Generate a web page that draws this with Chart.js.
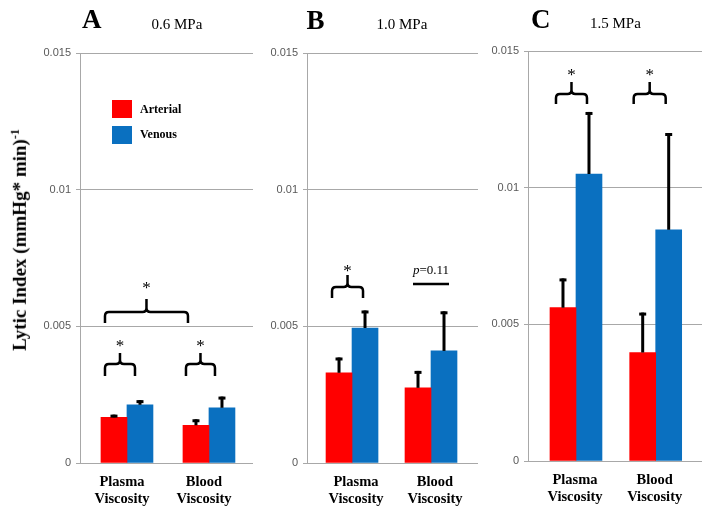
<!DOCTYPE html>
<html><head><meta charset="utf-8">
<script src="https://cdn.jsdelivr.net/npm/chart.js@4"></script>
<style>
html,body{margin:0;padding:0;background:#fff;}
#wrap{position:relative;width:714px;height:517px;overflow:hidden;background:#fff;}
canvas{position:absolute;top:0;}
.t{position:absolute;font-family:"Liberation Serif","Times New Roman",serif;line-height:1;white-space:nowrap;color:#000;}
.b{font-weight:bold;}
.sq{position:absolute;width:20px;height:18px;}
</style></head><body>
<div id="wrap">
<canvas id="cA" width="238" height="517" style="left:20px"></canvas>
<canvas id="cB" width="222" height="517" style="left:258px"></canvas>
<canvas id="cC" width="234" height="517" style="left:480px"></canvas>

<div class="t b" style="left:82px;top:5.7px;font-size:27px">A</div>
<div class="t" style="left:151.5px;top:16.7px;font-size:15px">0.6 MPa</div>
<div class="t b" style="left:306.5px;top:6.5px;font-size:27px">B</div>
<div class="t" style="left:376.5px;top:16.7px;font-size:15px">1.0 MPa</div>
<div class="t b" style="left:531px;top:5.7px;font-size:27px">C</div>
<div class="t" style="left:590px;top:15.7px;font-size:15px">1.5 MPa</div>

<div class="sq" style="left:112px;top:100px;background:#ff0000"></div>
<div class="sq" style="left:112px;top:126px;background:#0a70c0"></div>
<div class="t b" id="lg0" style="left:140px;top:103px;font-size:12px"></div>
<div class="t b" id="lg1" style="left:140px;top:128px;font-size:12px"></div>

<div class="t b" style="left:19px;top:240px;font-size:19px;transform:translate(-50%,-50%) rotate(-90deg);">Lytic Index (mmHg* min)<sup style="font-size:12px">-1</sup></div>
</div>
<script>
// ---- data ----
const categories = ['Plasma Viscosity', 'Blood Viscosity'];
const categoryLines = [['Plasma', 'Viscosity'], ['Blood', 'Viscosity']];
const seriesNames = ['Arterial', 'Venous'];
const yTicks = [0, 0.005, 0.01, 0.015];
const yTickLabels = ['0', '0.005', '0.01', '0.015'];

// Panel A: 0.6 MPa
const arterialA = [0.00167, 0.00138];
const arterialErrA = [0.00010, 0.00022];
const venousA = [0.00213, 0.00202];
const venousErrA = [0.00017, 0.00041];
// Panel B: 1.0 MPa
const arterialB = [0.00330, 0.00275];
const arterialErrB = [0.00056, 0.00062];
const venousB = [0.00494, 0.00410];
const venousErrB = [0.00064, 0.00145];
// Panel C: 1.5 MPa
const arterialC = [0.00561, 0.00397];
const arterialErrC = [0.00107, 0.00146];
const venousC = [0.01050, 0.00846];
const venousErrC = [0.00227, 0.00354];

const pValueLabel = 'p=0.11';

document.getElementById('lg0').textContent = seriesNames[0];
document.getElementById('lg1').textContent = seriesNames[1];

Chart.defaults.font.family = '"Liberation Sans", Arial, sans-serif';

function drawBrace(ctx, x1, x2, yb, leg, stem, r) {
  const yh = yb - leg, xm = (x1 + x2) / 2, yt = yh - stem;
  ctx.beginPath();
  ctx.moveTo(x1, yb);
  ctx.lineTo(x1, yh + r);
  ctx.quadraticCurveTo(x1, yh, x1 + r, yh);
  ctx.lineTo(xm - r, yh);
  ctx.quadraticCurveTo(xm, yh, xm, yh - r);
  ctx.lineTo(xm, yt);
  ctx.moveTo(xm, yh - r);
  ctx.quadraticCurveTo(xm, yh, xm + r, yh);
  ctx.lineTo(x2 - r, yh);
  ctx.quadraticCurveTo(x2, yh, x2, yh + r);
  ctx.lineTo(x2, yb);
  ctx.stroke();
  return yt;
}

const annotPlugin = {
  id: 'annot',
  afterDatasetsDraw(chart, args, opts) {
    const ctx = chart.ctx, xs = chart.scales.x, ys = chart.scales.y;
    const errs = opts.errors;
    ctx.save();
    ctx.strokeStyle = '#000';
    ctx.fillStyle = '#000';
    chart.data.datasets.forEach((ds, di) => {
      const meta = chart.getDatasetMeta(di);
      meta.data.forEach((bar, i) => {
        const v = ds.data[i].y;
        const top = ys.getPixelForValue(v + errs[di][i]);
        ctx.lineWidth = 3;
        ctx.lineCap = 'butt';
        ctx.beginPath();
        ctx.moveTo(bar.x, bar.y);
        ctx.lineTo(bar.x, top);
        ctx.stroke();
        ctx.lineWidth = 3;
        ctx.beginPath();
        ctx.moveTo(bar.x - 3.5, top + 1.5);
        ctx.lineTo(bar.x + 3.5, top + 1.5);
        ctx.stroke();
      });
    });
    (opts.braces || []).forEach(b => {
      const x1 = xs.getPixelForValue(b.c1) + b.dx1;
      const x2 = xs.getPixelForValue(b.c2) + b.dx2;
      const yb = ys.getPixelForValue(b.y);
      ctx.lineWidth = 2.5;
      ctx.lineCap = 'butt';
      const yt = drawBrace(ctx, x1, x2, yb, b.leg, b.stem, 4);
      ctx.font = '17px "Liberation Serif", serif';
      ctx.textAlign = 'center';
      ctx.textBaseline = 'alphabetic';
      ctx.fillText('*', (x1 + x2) / 2, yt - b.star + 8);
    });
    (opts.plines || []).forEach(p => {
      const xc = xs.getPixelForValue(p.c);
      const y = ys.getPixelForValue(p.y);
      ctx.lineWidth = 2.5;
      ctx.beginPath();
      ctx.moveTo(xc + p.dx1, y);
      ctx.lineTo(xc + p.dx2, y);
      ctx.stroke();
      ctx.textBaseline = 'alphabetic';
      ctx.textAlign = 'left';
      const ip = 'italic 13px "Liberation Serif", serif';
      const rp = '13px "Liberation Serif", serif';
      ctx.font = ip;
      const w1 = ctx.measureText(p.label[0]).width;
      ctx.font = rp;
      const w2 = ctx.measureText(p.label.slice(1)).width;
      const x0 = xc - (w1 + w2) / 2;
      ctx.font = ip;
      ctx.fillText(p.label[0], x0, y - 10);
      ctx.font = rp;
      ctx.fillText(p.label.slice(1), x0 + w1, y - 10);
    });
    ctx.restore();
  }
};

function makeChart(id, arterial, venous, errA, errV, layout, braces, plines) {
  const toPts = arr => arr.map((v, i) => ({ x: i, y: v }));
  return new Chart(document.getElementById(id), {
    type: 'bar',
    data: {
      datasets: [
        { label: seriesNames[0], data: toPts(arterial), backgroundColor: '#ff0000', borderWidth: 0, barThickness: 26 },
        { label: seriesNames[1], data: toPts(venous), backgroundColor: '#0a70c0', borderWidth: 0, barThickness: 26 }
      ]
    },
    options: {
      responsive: false,
      animation: false,
      devicePixelRatio: 1,
      layout: { padding: { top: layout.top, right: layout.right, left: 0, bottom: 0 } },
      plugins: {
        legend: { display: false },
        tooltip: { enabled: false },
        annot: { errors: [errA, errV], braces: braces, plines: plines }
      },
      scales: {
        x: {
          type: 'linear',
          min: layout.xMin, max: layout.xMax,
          offset: false,
          afterBuildTicks: s => { s.ticks = [{ value: 0 }, { value: 1 }]; },
          afterFit: s => { s.height = layout.xH; },
          grid: { display: false, drawTicks: false, tickLength: 0 },
          border: { display: false },
          ticks: {
            autoSkip: false, maxRotation: 0, minRotation: 0,
            callback: v => categoryLines[v],
            font: { family: '"Liberation Serif", serif', size: 14.5, weight: 'bold', lineHeight: 1.15 },
            color: '#000',
            padding: 11,
            labelOffset: layout.labelOffset
          }
        },
        y: {
          min: 0, max: 0.015,
          afterBuildTicks: s => { s.ticks = yTicks.map(v => ({ value: v })); },
          afterFit: s => { s.width = layout.yW; },
          grid: { color: '#a8a8a8', lineWidth: 1, tickLength: 4, drawTicks: true },
          border: { display: true, color: '#a8a8a8', width: 1 },
          ticks: {
            callback: (v, i) => yTickLabels[i],
            font: { size: 11 },
            color: '#595959',
            padding: 5
          }
        }
      }
    },
    plugins: [annotPlugin]
  });
}

makeChart('cA', arterialA, venousA, arterialErrA, venousErrA,
  { top: 53, right: 5, yW: 60, xH: 54, xMin: -0.573, xMax: 1.537, labelOffset: -5 },
  [
    { c1: 0, dx1: -22, c2: 0, dx2: 8, y: 0.00318, leg: 12, stem: 11, star: 10 },
    { c1: 1, dx1: -23, c2: 1, dx2: 6, y: 0.00318, leg: 12, stem: 11, star: 10 },
    { c1: 0, dx1: -22, c2: 1, dx2: -21, y: 0.00512, leg: 11, stem: 13, star: 14 }
  ], []);

makeChart('cB', arterialB, venousB, arterialErrB, venousErrB,
  { top: 53, right: 2, yW: 49, xH: 54, xMin: -0.570, xMax: 1.595, labelOffset: 4 },
  [
    { c1: 0, dx1: -20, c2: 0, dx2: 11, y: 0.00604, leg: 11, stem: 12, star: 7 }
  ],
  [ { c: 1, dx1: -18, dx2: 18, y: 0.00655, label: pValueLabel } ]);

makeChart('cC', arterialC, venousC, arterialErrC, venousErrC,
  { top: 51, right: 12, yW: 48, xH: 56, xMin: -0.602, xMax: 1.581, labelOffset: -1 },
  [
    { c1: 0, dx1: -20, c2: 0, dx2: 11, y: 0.01306, leg: 10, stem: 12, star: 10 },
    { c1: 1, dx1: -22, c2: 1, dx2: 10, y: 0.01306, leg: 10, stem: 12, star: 10 }
  ], []);
</script>
</body></html>
